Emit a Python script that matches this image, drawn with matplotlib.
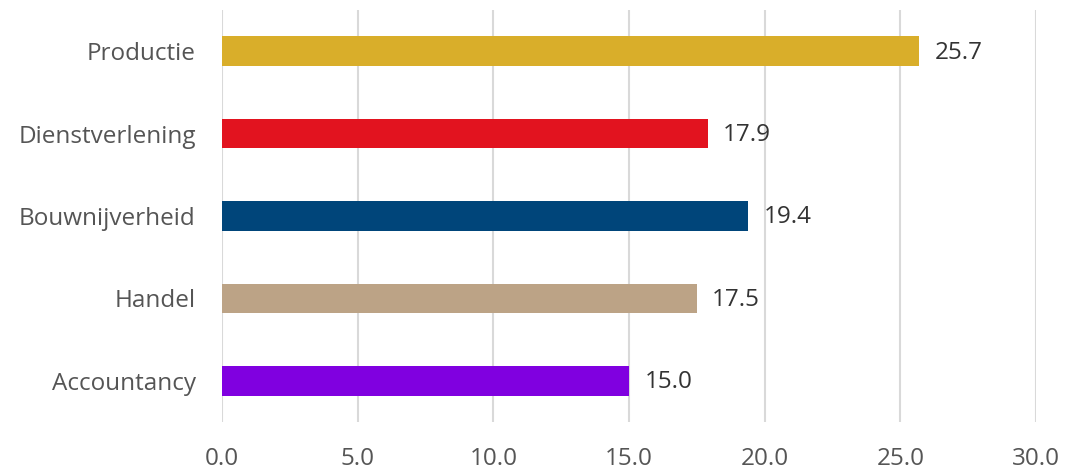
import matplotlib.pyplot as plt

categories = ['Productie', 'Dienstverlening', 'Bouwnijverheid', 'Handel', 'Accountancy']
values = [25.7, 17.9, 19.4, 17.5, 15.0]
colors = ['#D9AE2A', '#E2131F', '#00457A', '#BCA386', '#8000E0']
xticks = [0, 5, 10, 15, 20, 25, 30]

plt.rcParams['font.family'] = ['Open Sans', 'DejaVu Sans']

fig = plt.figure(figsize=(10.81, 4.71), dpi=100)
ax = fig.add_axes([0.2054, 0.104, 0.753, 0.8747])

pos = range(len(categories))
ax.barh(pos, values, height=0.36, color=colors, zorder=3)
for p, v in zip(pos, values):
    ax.annotate('%.1f' % v, (v, p), xytext=(11, -1), textcoords='offset points',
                va='center', ha='left', fontsize=17.5, color='#333333')

ax.set_ylim(4.5, -0.5)
ax.set_xlim(0, 30)
ax.set_yticks(list(pos))
ax.set_yticklabels(categories, fontsize=17.5, color='#555555')
ax.set_xticks(xticks)
ax.set_xticklabels(['%.1f' % t for t in xticks], fontsize=17.5, color='#555555')
ax.tick_params(axis='both', length=0)
ax.tick_params(axis='y', pad=19)
ax.tick_params(axis='x', pad=18)
ax.grid(axis='x', color='#D9D9D9', linewidth=1.5, zorder=0)
for s in ax.spines.values():
    s.set_visible(False)

plt.savefig('out.png', dpi=100)
